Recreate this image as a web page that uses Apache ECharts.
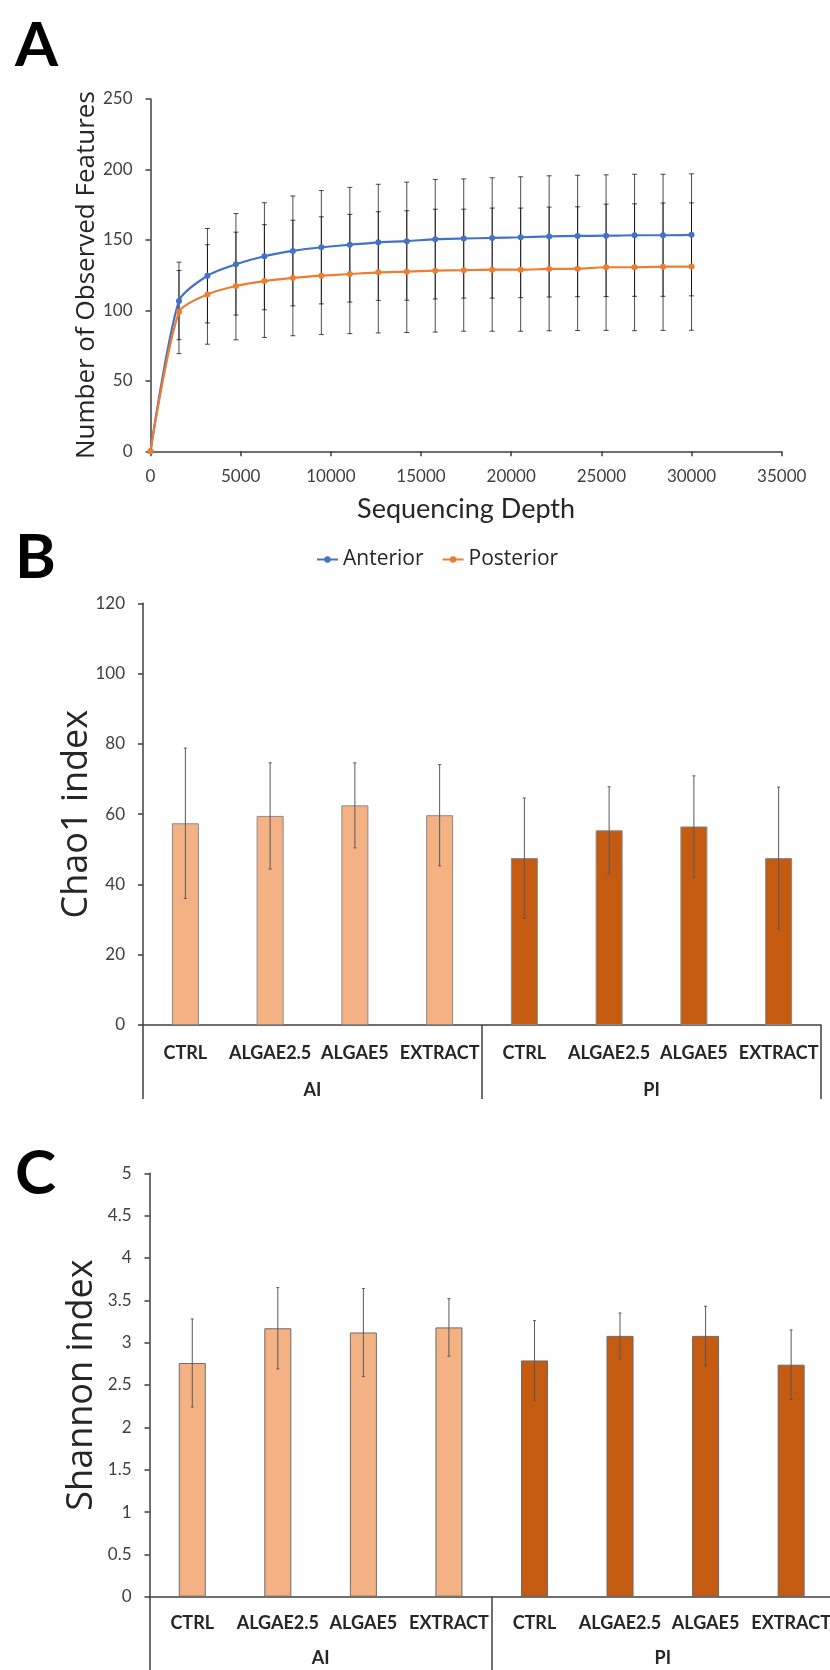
<!DOCTYPE html>
<html>
<head>
<meta charset="utf-8">
<script src="https://cdn.jsdelivr.net/npm/echarts@6/dist/echarts.min.js"></script>
<style>
  html, body { margin: 0; padding: 0; background: #fff; }
  #main { width: 830px; height: 1670px; }
</style>
</head>
<body>
<div id="main"></div>
<script>
// A: rarefaction curves
const depth = [0, 1579, 3158, 4737, 6316, 7895, 9474, 11053, 12632, 14211, 15789, 17368, 18947, 20526, 22105, 23684, 25263, 26842, 28421, 30000]
const anteriorMean = [0, 106.7, 124.6, 132.7, 138.4, 142.2, 144.8, 146.6, 148.3, 149.1, 150.5, 151.0, 151.4, 151.9, 152.5, 152.8, 153.0, 153.3, 153.3, 153.6]
const anteriorSd = [0, 27.5, 33.5, 36.0, 38.0, 39.0, 40.2, 40.7, 41.2, 41.9, 42.4, 42.3, 42.7, 42.9, 43.0, 43.1, 43.2, 43.3, 43.3, 43.3]
const posteriorMean = [0, 98.8, 111.3, 117.3, 120.8, 123.0, 124.6, 125.8, 127.0, 127.5, 128.2, 128.5, 128.9, 128.9, 129.4, 129.6, 130.6, 130.6, 131.0, 131.1]
const posteriorSd = [0, 29.5, 35.3, 38.2, 40.0, 41.0, 41.8, 42.3, 43.0, 43.2, 43.6, 43.3, 43.7, 43.7, 43.9, 43.9, 44.8, 45.0, 45.2, 45.2]

// B / C: alpha diversity bars
const categories = ['CTRL', 'ALGAE2.5', 'ALGAE5', 'EXTRACT', 'CTRL', 'ALGAE2.5', 'ALGAE5', 'EXTRACT']
const groups = ['AI', 'PI']
const chao1Mean = [57.4, 59.5, 62.5, 59.7, 47.5, 55.4, 56.5, 47.5]
const chao1Err = [21.4, 15.1, 12.1, 14.4, 17.1, 12.4, 14.4, 20.2]
const shannonMean = [2.76, 3.17, 3.12, 3.18, 2.79, 3.08, 3.08, 2.74]
const shannonErr = [0.52, 0.48, 0.52, 0.34, 0.47, 0.27, 0.35, 0.41]

const axisColor = '#404040'
const textColor = '#262626'
const lightBar = '#F4B183'
const darkBar = '#C55A11'

const chart = echarts.init(document.getElementById('main'))

// 误差线 (error bars) drawn with a custom series
function errorBar(color, capHalf) {
  return function (params, api) {
    const x = api.value(0)
    const lo = api.coord([x, api.value(1)])
    const hi = api.coord([x, api.value(2)])
    const style = { stroke: color, lineWidth: 1 }
    return {
      type: 'group',
      children: [
        { type: 'line', shape: { x1: lo[0], y1: lo[1], x2: hi[0], y2: hi[1] }, style },
        { type: 'line', shape: { x1: lo[0] - capHalf, y1: lo[1], x2: lo[0] + capHalf, y2: lo[1] }, style },
        { type: 'line', shape: { x1: hi[0] - capHalf, y1: hi[1], x2: hi[0] + capHalf, y2: hi[1] }, style }
      ]
    }
  }
}

function lineErrors(mean, sd) {
  const out = []
  depth.forEach((d, i) => {
    if (sd[i] > 0) out.push([d, mean[i] - sd[i], mean[i] + sd[i]])
  })
  return out
}

function barErrors(mean, err) {
  return mean.map((m, i) => [i, m - err[i], m + err[i]])
}

function barColor(p) {
  return p.dataIndex < 4 ? lightBar : darkBar
}

const tickLabel = { color: axisColor, fontFamily: 'Lato', fontSize: 17, margin: 18 }
const axisLine = { show: true, lineStyle: { color: axisColor, width: 1.5 } }
const axisTick = { show: true, length: 5, lineStyle: { color: axisColor, width: 1.5 } }

function catAxis(grid, margin) {
  return {
    type: 'category', gridIndex: grid, data: categories, position: 'bottom',
    axisLine: axisLine, axisTick: { show: false },
    axisLabel: { color: textColor, fontFamily: 'Lato', fontWeight: 'bold', fontSize: 18, margin: margin, interval: 0 }
  }
}

function groupAxis(grid, len, margin) {
  return {
    type: 'category', gridIndex: grid, data: groups, position: 'bottom',
    axisLine: { show: false },
    axisTick: { show: true, length: len, alignWithLabel: false, lineStyle: { color: axisColor, width: 1.5 } },
    axisLabel: { color: textColor, fontFamily: 'Lato', fontWeight: 'bold', fontSize: 18, margin: margin }
  }
}

function letter(t, top) {
  return { text: t, left: 10, top: top, textStyle: { fontFamily: 'Lato', fontWeight: 'bold', fontSize: 62, color: '#000' } }
}

const option = {
  animation: false,
  backgroundColor: '#fff',
  title: [letter('A', 10), letter('B', 522), letter('C', 1138)],
  legend: {
    data: ['Anterior', 'Posterior'],
    left: 311, top: 544,
    itemWidth: 21, itemHeight: 8, itemGap: 18,
    textStyle: { fontFamily: 'Open Sans', fontSize: 21, color: textColor }
  },
  grid: [
    { left: 150.5, top: 99, width: 631.2, height: 352.3, outerBoundsMode: 'none' },
    { left: 143, top: 603.3, width: 678, height: 421.7, outerBoundsMode: 'none' },
    { left: 149.5, top: 1173.3, width: 684.4, height: 423.4, outerBoundsMode: 'none' }
  ],
  xAxis: [
    {
      type: 'value', gridIndex: 0, min: 0, max: 35000, interval: 5000,
      name: 'Sequencing Depth', nameLocation: 'middle', nameGap: 44, nameMoveOverlap: false,
      nameTextStyle: { fontFamily: 'Lato', fontSize: 27, color: textColor },
      splitLine: { show: false }, axisLine: axisLine, axisTick: axisTick,
      axisLabel: Object.assign({}, tickLabel, { margin: 17, formatter: v => String(v) })
    },
    catAxis(1, 19),
    groupAxis(1, 74, 56),
    catAxis(2, 17),
    groupAxis(2, 80, 52)
  ],
  yAxis: [
    {
      type: 'value', gridIndex: 0, min: 0, max: 250, interval: 50,
      name: 'Number of Observed Features', nameLocation: 'middle', nameGap: 51, nameMoveOverlap: false,
      nameTextStyle: { fontFamily: 'Open Sans', fontSize: 26, color: textColor },
      splitLine: { show: false }, axisLine: axisLine, axisTick: axisTick, axisLabel: tickLabel
    },
    {
      type: 'value', gridIndex: 1, min: 0, max: 120, interval: 20,
      name: 'Chao1 index', nameLocation: 'middle', nameGap: 48, nameMoveOverlap: false,
      nameTextStyle: { fontFamily: 'Open Sans', fontSize: 36, color: textColor },
      splitLine: { show: false }, axisLine: axisLine, axisTick: axisTick, axisLabel: tickLabel
    },
    {
      type: 'value', gridIndex: 2, min: 0, max: 5, interval: 0.5,
      name: 'Shannon index', nameLocation: 'middle', nameGap: 50, nameMoveOverlap: false,
      nameTextStyle: { fontFamily: 'Open Sans', fontSize: 36, color: textColor },
      splitLine: { show: false }, axisLine: axisLine, axisTick: axisTick, axisLabel: tickLabel
    }
  ],
  series: [
    {
      type: 'custom', xAxisIndex: 0, yAxisIndex: 0, z: 1,
      renderItem: errorBar('rgba(0,0,0,0.7)', 2.5),
      encode: { x: 0, y: [1, 2] },
      data: lineErrors(anteriorMean, anteriorSd)
    },
    {
      type: 'custom', xAxisIndex: 0, yAxisIndex: 0, z: 1,
      renderItem: errorBar('rgba(0,0,0,0.7)', 2.5),
      encode: { x: 0, y: [1, 2] },
      data: lineErrors(posteriorMean, posteriorSd)
    },
    {
      name: 'Anterior', type: 'line', xAxisIndex: 0, yAxisIndex: 0, z: 3,
      smooth: 0.25, symbol: 'circle', symbolSize: 6,
      lineStyle: { color: '#4472C4', width: 2.2 }, itemStyle: { color: '#4472C4' },
      data: depth.map((d, i) => [d, anteriorMean[i]])
    },
    {
      name: 'Posterior', type: 'line', xAxisIndex: 0, yAxisIndex: 0, z: 3,
      smooth: 0.25, symbol: 'circle', symbolSize: 6,
      lineStyle: { color: '#ED7D31', width: 2.2 }, itemStyle: { color: '#ED7D31' },
      data: depth.map((d, i) => [d, posteriorMean[i]])
    },
    {
      type: 'bar', xAxisIndex: 1, yAxisIndex: 1, barWidth: 27,
      itemStyle: { color: barColor, borderColor: '#8a8a8a', borderWidth: 1 },
      data: chao1Mean
    },
    {
      type: 'custom', xAxisIndex: 1, yAxisIndex: 1, z: 4,
      renderItem: errorBar('#595959', 1.5),
      encode: { x: 0, y: [1, 2] },
      data: barErrors(chao1Mean, chao1Err)
    },
    {
      type: 'bar', xAxisIndex: 3, yAxisIndex: 2, barWidth: 27,
      itemStyle: { color: barColor, borderColor: '#6b6b6b', borderWidth: 1 },
      data: shannonMean
    },
    {
      type: 'custom', xAxisIndex: 3, yAxisIndex: 2, z: 4,
      renderItem: errorBar('#595959', 1.5),
      encode: { x: 0, y: [1, 2] },
      data: barErrors(shannonMean, shannonErr)
    }
  ]
}

chart.setOption(option)
</script>
</body>
</html>
